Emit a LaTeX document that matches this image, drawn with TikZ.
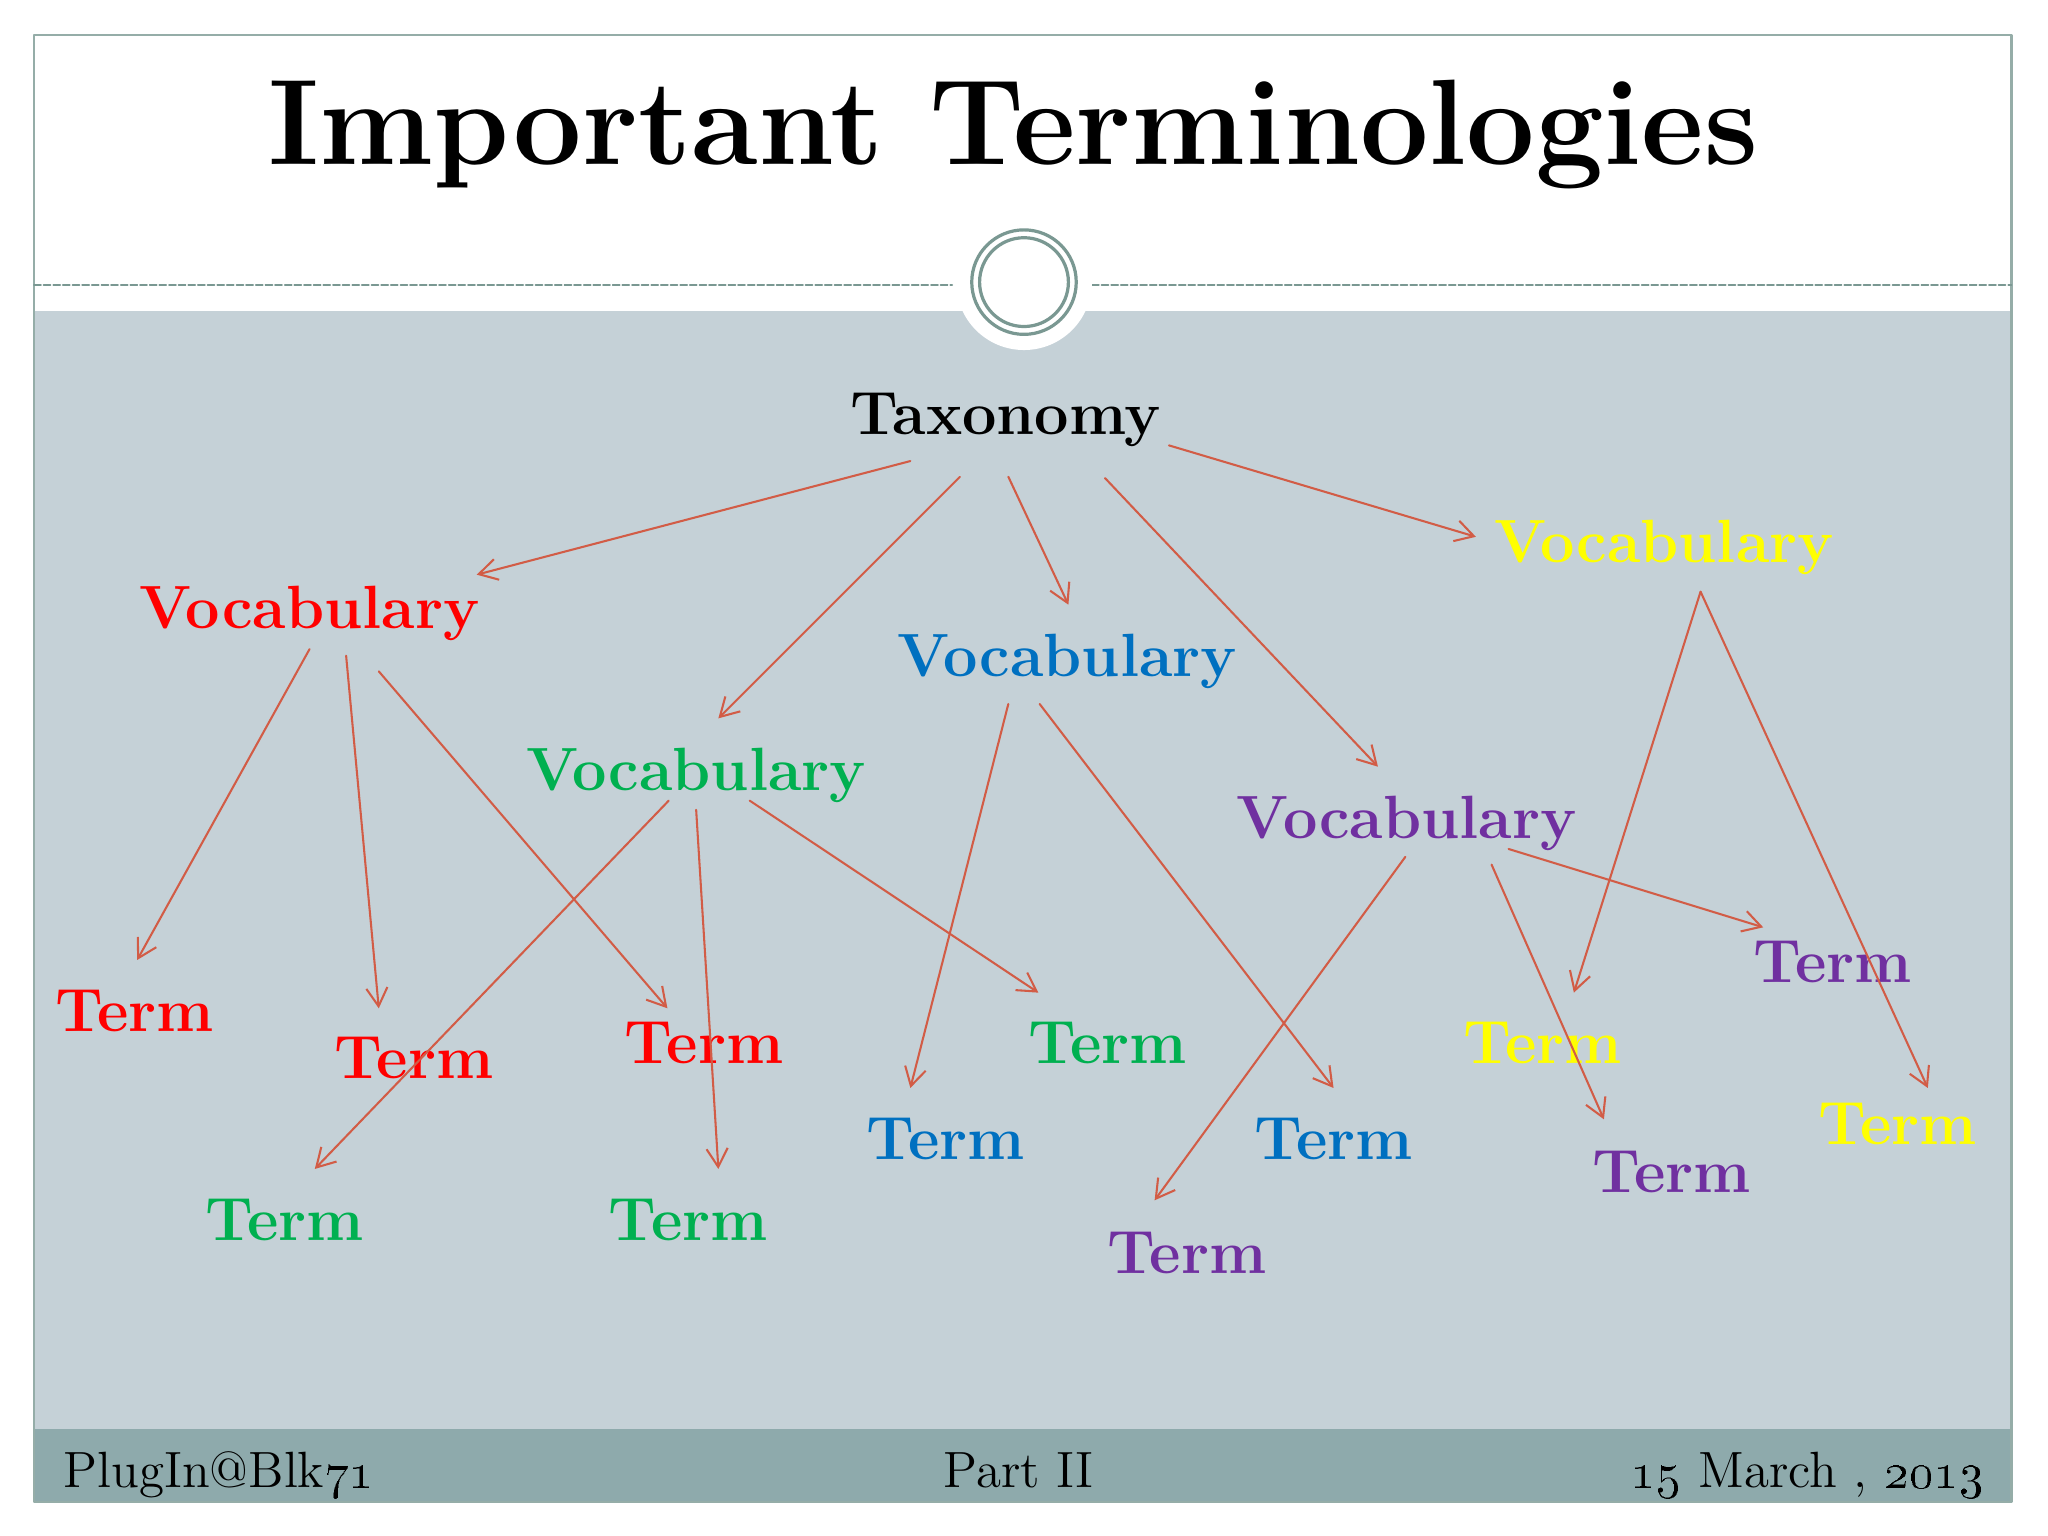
\documentclass[tikz,border=0pt]{standalone}
\usepackage{tikz}
\usetikzlibrary{arrows.meta}
\usetikzlibrary{calc}
\definecolor{body}{RGB}{197,209,215}
\definecolor{foot}{RGB}{142,170,172}
\definecolor{rim}{RGB}{122,152,146}
\definecolor{linkc}{RGB}{210,92,70}
\definecolor{cred}{RGB}{255,0,0}
\definecolor{cgreen}{RGB}{0,176,80}
\definecolor{cblue}{RGB}{0,112,192}
\definecolor{cpurple}{RGB}{112,48,160}
\definecolor{cyellow}{RGB}{255,255,0}
\tikzset{
  word/.style={anchor=base,inner sep=0pt,font=\fontsize{13.3}{16}\selectfont\bfseries},
  footword/.style={inner sep=0pt,font=\fontsize{11.1}{13}\selectfont},
  link/.style={->,color=linkc,line width=0.45pt}
}

\begin{document}
\begin{tikzpicture}[line cap=round,line join=round,>={Straight Barb[length=4pt,width=4.6pt]},x=0.01cm,y=-0.01cm]
\fill[white] (0,0) rectangle (1568,1176);
\useasboundingbox (0,0) rectangle (1568,1176);
%flaechen
\fill[body] (26,238) rectangle (1540,1094);
\fill[foot] (26,1094) rectangle (1540,1150);
\draw[rim!80,line width=0.5pt] (26,27) rectangle (1540,1150);
%viiva ja rengas
\draw[rim,line width=0.4pt,dash pattern=on 1.5pt off 0.6pt] (26,218) -- (729,218);
\draw[rim,line width=0.4pt,dash pattern=on 1.5pt off 0.6pt] (836,218) -- (1540,218);
\coordinate (ring) at (784,216);
\fill[white] (ring) circle [radius=52];
\draw[rim,line width=0.7pt] (ring) circle [radius=40];
\draw[rim,line width=0.7pt] (ring) circle [radius=34];
\node[anchor=base,inner sep=0pt,font=\fontsize{26.5}{31}\selectfont\bfseries] (title) at (776,126) {Important Terminologies};

%sanat
\node[word] (tax) at (770,333) {Taxonomy};
\foreach \n/\c/\x/\y in {vred/cred/237/481,vgreen/cgreen/533/605,vblue/cblue/817/518,
  vpurple/cpurple/1077/642,vyellow/cyellow/1274/431}
{
\node[word,text=\c] (\n) at (\x,\y) {Vocabulary};
}
\foreach \n/\c/\x/\y in {tr1/cred/103/790,tr2/cred/317/826,tr3/cred/539/814,
  tg1/cgreen/218/950,tg2/cgreen/527/950,tg3/cgreen/848/814,
  tb1/cblue/724/888,tb2/cblue/1021/888,
  tp1/cpurple/909/975,tp2/cpurple/1280/913,tp3/cpurple/1403/752,
  ty1/cyellow/1181/814,ty2/cyellow/1453/876}
{
\node[word,text=\c] (\n) at (\x,\y) {Term};
}

%nuolet
\foreach \a/\da/\b/\db in {tax/{-73,20}/vred/{128,-41},tax/{-35,32}/vgreen/{17,-55},
  tax/{2,32}/vblue/{1,-55},tax/{76,33}/vpurple/{-22,-55},tax/{125,8}/vyellow/{-144,-20},
  vred/{0,16}/tr1/{2,-55},vred/{28,21}/tr2/{-27,-54},vred/{53,33}/tr3/{-28,-42},
  vgreen/{-21,8}/tg1/{23,-55},vgreen/{0,15}/tg2/{23,-55},vgreen/{41,8}/tg3/{-53,-54},
  vblue/{-45,21}/tb1/{-27,-55},vblue/{-21,21}/tb2/{0,-55},
  vpurple/{-1,14}/tp1/{-25,-56},vpurple/{65,20}/tp2/{-52,-56},vpurple/{78,8}/tp3/{-53,-42},
  vyellow/{28,22}/ty1/{24,-54},vyellow/{28,22}/ty2/{23,-43}}
{
\draw[link] ($(\a.base)+(\da)$) -- ($(\b.base)+(\db)$);
}

%alapalkki
\node[footword,anchor=base west] (who) at (48,1139) {PlugIn@Blk\oldstylenums{71}};
\node[footword,anchor=base] (part) at (780,1139) {Part II};
\node[footword,anchor=base east] (date) at (1520,1139) {\oldstylenums{15} March , \oldstylenums{2013}};
\end{tikzpicture}
\end{document}
